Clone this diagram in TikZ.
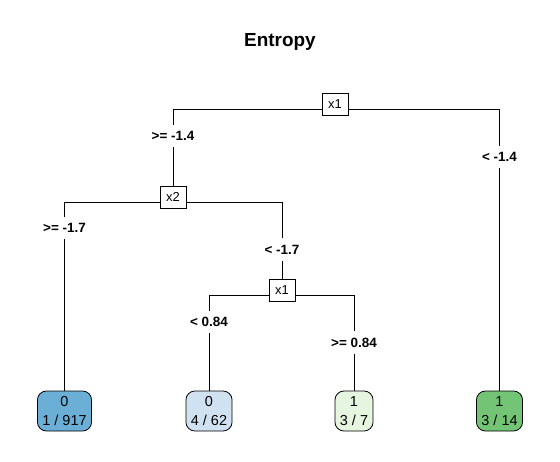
\documentclass[tikz,border=0pt]{standalone}
\usepackage{fontspec}
\setmainfont{Liberation Sans}
\usetikzlibrary{positioning}
\definecolor{leafblue}{RGB}{107,174,214}
\definecolor{leafpaleblue}{RGB}{208,225,242}
\definecolor{leafpalegreen}{RGB}{229,245,224}
\definecolor{leafgreen}{RGB}{116,196,118}
\tikzset{
  every path/.style={line width=0.8bp},
}

\begin{document}
\begin{tikzpicture}[x=1bp, y=-1bp,
    split/.style={draw, fill=white, minimum width=26bp, minimum height=22bp,
                  inner sep=0pt, font=\fontsize{13}{15}\selectfont},
    leaf/.style={draw, rounded corners=9bp, minimum height=40bp, inner xsep=5bp,
                 align=center, font=\fontsize{14.5}{19}\selectfont},
    cut/.style={fill=white, inner xsep=2bp, inner ysep=6.5bp,
                font=\bfseries\fontsize{13.5}{15}\selectfont}]
  \fill [white] (0,0) rectangle (560,462);
  \useasboundingbox (0,0) rectangle (560,462);
  \node [anchor=base, font=\bfseries\fontsize{19}{22}\selectfont] (title) at (280,47) {Entropy};
  % splits
  \node [split] (root) at (335,104) {x1};
  \node [split] (sx2) at (173,197) {x2};
  \node [split] (sx1) at (282,290.5) {x1};
  % leaves
  \node [leaf, fill=leafblue] (l1) at (64.5,411) {0\\1 / 917};
  \node [leaf, fill=leafpaleblue] (l2) at (209,411) {0\\4 / 62};
  \node [leaf, fill=leafpalegreen] (l3) at (354,411) {1\\3 / 7};
  \node [leaf, fill=leafgreen] (l4) at (499.5,411) {1\\3 / 14};
  % branches
  \draw ([yshift=-5bp]root.west) -| (sx2);
  \draw ([yshift=-5bp]root.east) -| (l4);
  \draw ([yshift=-5.5bp]sx2.west) -| (l1);
  \draw ([yshift=-5.5bp]sx2.east) -| (sx1);
  \draw ([yshift=-4.5bp]sx1.west) -| (l2);
  \draw ([yshift=-4.5bp]sx1.east) -| (l3);
  % branch labels
  \node [cut] (c1) at (173,136) {>= -1.4};
  \node [cut] (c2) at (499.5,157) {< -1.4};
  \node [cut] (c3) at (64.5,228) {>= -1.7};
  \node [cut] (c4) at (282,249.5) {< -1.7};
  \node [cut] (c5) at (209,322) {< 0.84};
  \node [cut] (c6) at (354,342.5) {>= 0.84};
\end{tikzpicture}
\end{document}
